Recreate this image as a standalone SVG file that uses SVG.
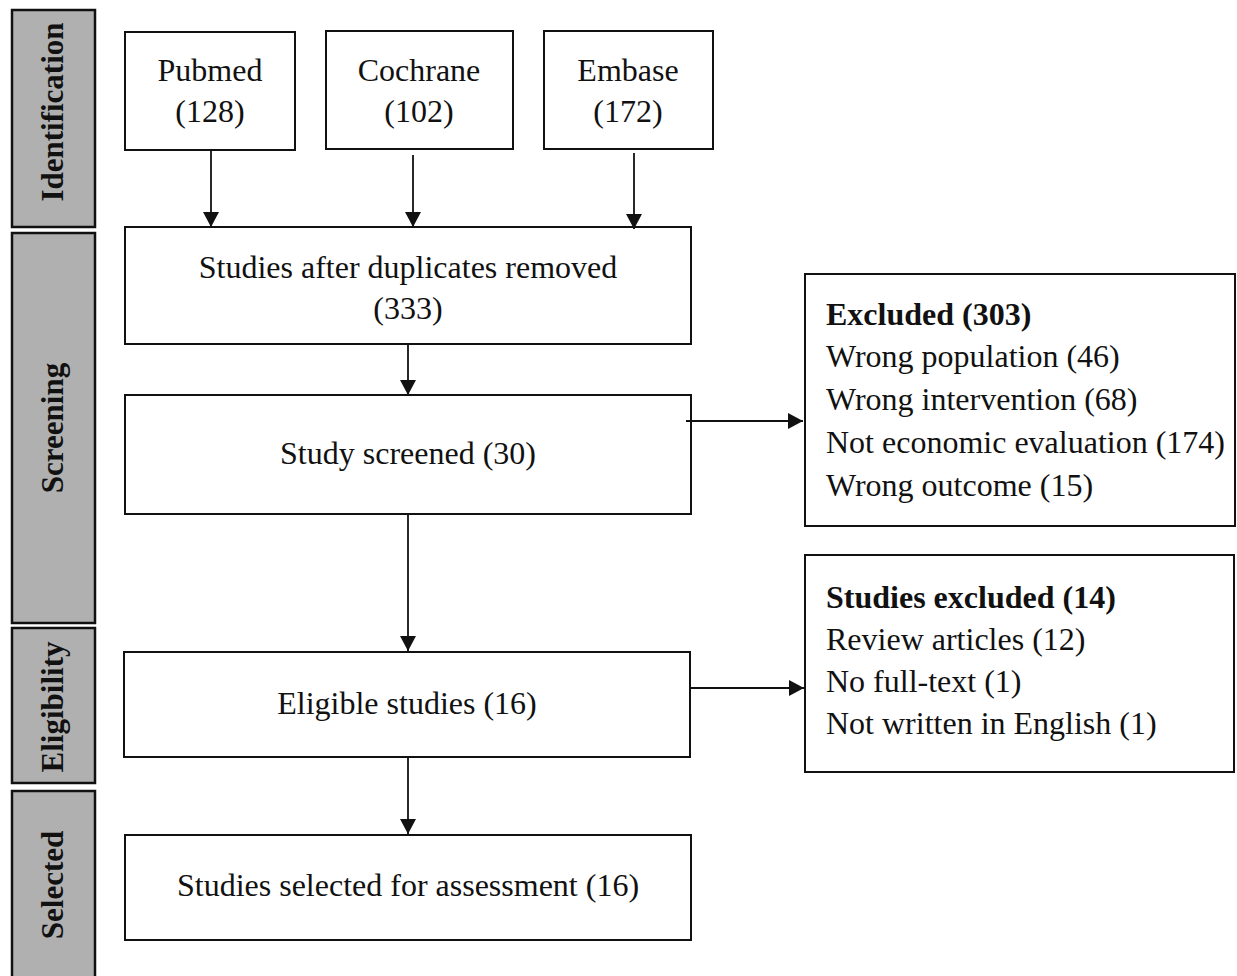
<svg xmlns="http://www.w3.org/2000/svg" width="1237" height="976" viewBox="0 0 1237 976">
<defs>
<style>
.bar{fill:#b0b0b0;stroke:#111;stroke-width:2.5}
.box{fill:#fff;stroke:#111;stroke-width:2}
.t{font-family:"Liberation Serif","Times New Roman",serif;font-size:32px;fill:#111}
.c{text-anchor:middle}
.b{font-weight:bold}
.lbl{font-family:"Liberation Serif","Times New Roman",serif;font-size:31px;font-weight:bold;fill:#111;text-anchor:middle}
.con line{stroke:#111;stroke-width:1.8;marker-end:url(#ah)}
</style>
<marker id="ah" markerUnits="userSpaceOnUse" markerWidth="17" markerHeight="17" refX="15" refY="8" orient="auto">
<path d="M0,0 L15,8 L0,16 z" fill="#111"/>
</marker>
</defs>
<rect width="1237" height="976" fill="#fff"/>
<g id="phase-identification"><rect class="bar" x="12" y="10" width="83" height="217"/><text class="lbl" transform="translate(63,112) rotate(-90)">Identification</text></g>
<g id="phase-screening"><rect class="bar" x="12" y="233" width="83" height="390"/><text class="lbl" transform="translate(63,428) rotate(-90)">Screening</text></g>
<g id="phase-eligibility"><rect class="bar" x="12" y="628" width="83" height="155"/><text class="lbl" transform="translate(63,707) rotate(-90)">Eligibility</text></g>
<g id="phase-selected"><rect class="bar" x="12" y="791" width="83" height="200"/><text class="lbl" transform="translate(63,885) rotate(-90)">Selected</text></g>

<g id="pubmed"><rect class="box" x="125" y="32" width="170" height="118"/><text class="t c" x="210" y="81">Pubmed</text><text class="t c" x="210" y="122">(128)</text></g>
<g id="cochrane"><rect class="box" x="326" y="31" width="187" height="118"/><text class="t c" x="419" y="81">Cochrane</text><text class="t c" x="419" y="122">(102)</text></g>
<g id="embase"><rect class="box" x="544" y="31" width="169" height="118"/><text class="t c" x="628" y="81">Embase</text><text class="t c" x="628" y="122">(172)</text></g>

<g id="dedup"><rect class="box" x="125" y="227" width="566" height="117"/><text class="t c" x="408" y="278">Studies after duplicates removed</text><text class="t c" x="408" y="319">(333)</text></g>
<g id="screened"><rect class="box" x="125" y="395" width="566" height="119"/><text class="t c" x="408" y="464">Study screened (30)</text></g>
<g id="excluded"><rect class="box" x="805" y="274" width="430" height="252"/>
<text class="t" x="826" y="325"><tspan class="b">Excluded (303)</tspan><tspan x="826" dy="42">Wrong population (46)</tspan><tspan x="826" dy="43">Wrong intervention (68)</tspan><tspan x="826" dy="43">Not economic evaluation (174)</tspan><tspan x="826" dy="43">Wrong outcome (15)</tspan></text></g>
<g id="eligible"><rect class="box" x="124" y="652" width="566" height="105"/><text class="t c" x="407" y="714">Eligible studies (16)</text></g>
<g id="studies-excluded"><rect class="box" x="805" y="555" width="429" height="217"/>
<text class="t" x="826" y="608"><tspan class="b">Studies excluded (14)</tspan><tspan x="826" dy="42">Review articles (12)</tspan><tspan x="826" dy="42">No full-text (1)</tspan><tspan x="826" dy="42">Not written in English (1)</tspan></text></g>
<g id="selected"><rect class="box" x="125" y="835" width="566" height="105"/><text class="t c" x="408" y="896">Studies selected for assessment (16)</text></g>

<g id="connectors" class="con">
<line x1="211" y1="150" x2="211" y2="227"/>
<line x1="413" y1="155" x2="413" y2="227"/>
<line x1="634" y1="153" x2="634" y2="229"/>
<line x1="408" y1="344" x2="408" y2="395"/>
<line x1="686" y1="421" x2="803" y2="421"/>
<line x1="408" y1="514" x2="408" y2="651"/>
<line x1="690" y1="688" x2="804" y2="688"/>
<line x1="408" y1="757" x2="408" y2="834"/>
</g>
</svg>
